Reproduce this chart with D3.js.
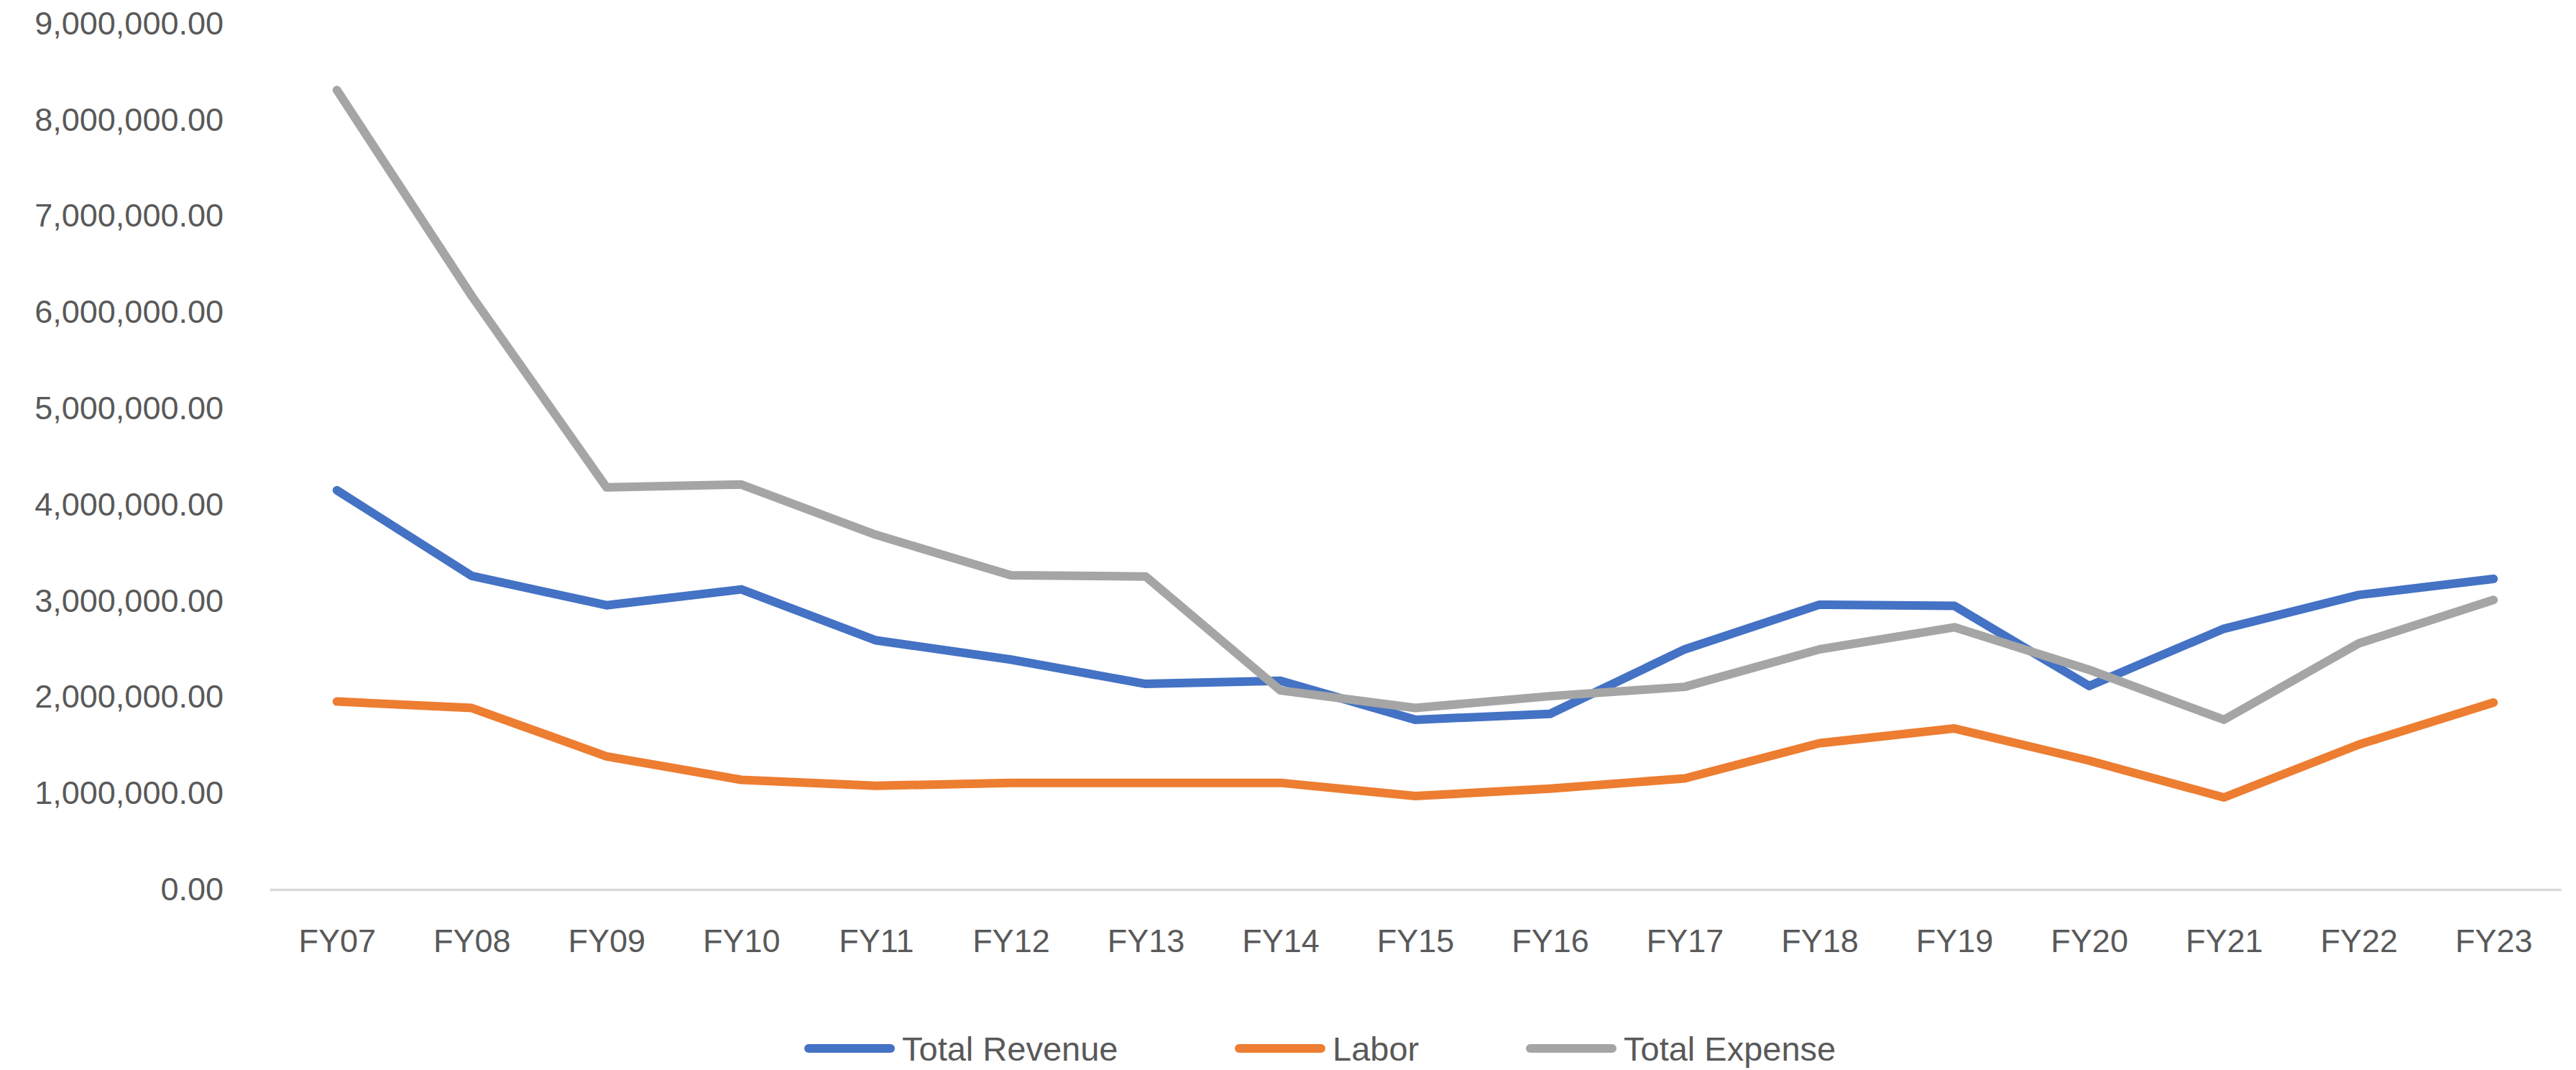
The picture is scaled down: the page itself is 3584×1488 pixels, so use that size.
<!DOCTYPE html>
<html>
<head>
<meta charset="utf-8">
<script src="https://cdn.jsdelivr.net/npm/d3@7"></script>
<style>
  html, body { margin: 0; padding: 0; background: #ffffff; }
  svg { display: block; }
</style>
</head>
<body>
<svg id="chart" width="3584" height="1488"></svg>
<script>
// ---- data ----
const categories = ["FY07","FY08","FY09","FY10","FY11","FY12","FY13","FY14","FY15","FY16","FY17","FY18","FY19","FY20","FY21","FY22","FY23"];
const totalRevenue = [4150000, 3260000, 2955000, 3120000, 2590000, 2390000, 2137000, 2170000, 1765000, 1826000, 2497000, 2961000, 2949000, 2116000, 2711000, 3062000, 3229000];
const labor        = [1954000, 1887000, 1384000, 1140000, 1078000, 1109000, 1109000, 1109000, 972000, 1049000, 1155000, 1521000, 1674000, 1340000, 957000, 1506000, 1943000];
const totalExpense = [8310000, 6170000, 4180000, 4210000, 3687000, 3266000, 3254000, 2070000, 1887000, 2010000, 2107000, 2497000, 2726000, 2284000, 1765000, 2558000, 3010000];
const yTicks = [0, 1000000, 2000000, 3000000, 4000000, 5000000, 6000000, 7000000, 8000000, 9000000];
const seriesNames = ["Total Revenue", "Labor", "Total Expense"];
const seriesColors = ["#4472C4", "#ED7D31", "#A5A5A5"];

const seriesList = [totalRevenue, labor, totalExpense].map((vals, i) => ({
  name: seriesNames[i], color: seriesColors[i], values: vals
}));

// ---- layout ----
const svg = d3.select("#chart");
const FONT = "'Liberation Sans', Arial, sans-serif";
const textColor = "#595959";

const x = d3.scalePoint().domain(categories).range([375, 3563]).padding(0.5);
const y = d3.scaleLinear().domain([0, 9000000]).range([1237, 33]);

// y axis
const yAxis = svg.append("g")
  .attr("transform", "translate(311,0)")
  .call(d3.axisLeft(y).tickValues(yTicks).tickFormat(d3.format(",.2f")).tickSize(0).tickPadding(0));
yAxis.select(".domain").remove();
yAxis.selectAll("text")
  .attr("fill", textColor)
  .style("font-family", FONT)
  .style("font-size", "45px");

// x axis
const xAxis = svg.append("g")
  .attr("transform", "translate(0,1237)")
  .call(d3.axisBottom(x).tickSize(0).tickPadding(55));
xAxis.select(".domain")
  .attr("stroke", "#D9D9D9")
  .attr("stroke-width", 3.5);
xAxis.selectAll("text")
  .attr("fill", textColor)
  .style("font-family", FONT)
  .style("font-size", "45px");

// lines
const line = d3.line()
  .x((d, i) => x(categories[i]))
  .y(d => y(d));

svg.append("g").selectAll("path")
  .data(seriesList)
  .join("path")
  .attr("fill", "none")
  .attr("stroke", d => d.color)
  .attr("stroke-width", 12)
  .attr("stroke-linejoin", "round")
  .attr("stroke-linecap", "round")
  .attr("d", d => line(d.values));

// legend
const legendX = [1125, 1724, 2129];
const legend = svg.append("g").selectAll("g")
  .data(seriesList)
  .join("g")
  .attr("transform", (d, i) => `translate(${legendX[i]},1458)`);
legend.append("line")
  .attr("x1", 0).attr("x2", 114)
  .attr("y1", 0).attr("y2", 0)
  .attr("stroke", d => d.color)
  .attr("stroke-width", 12)
  .attr("stroke-linecap", "round");
legend.append("text")
  .attr("x", 130)
  .attr("y", 17)
  .attr("fill", textColor)
  .style("font-family", FONT)
  .style("font-size", "47px")
  .text(d => d.name);
</script>
</body>
</html>
